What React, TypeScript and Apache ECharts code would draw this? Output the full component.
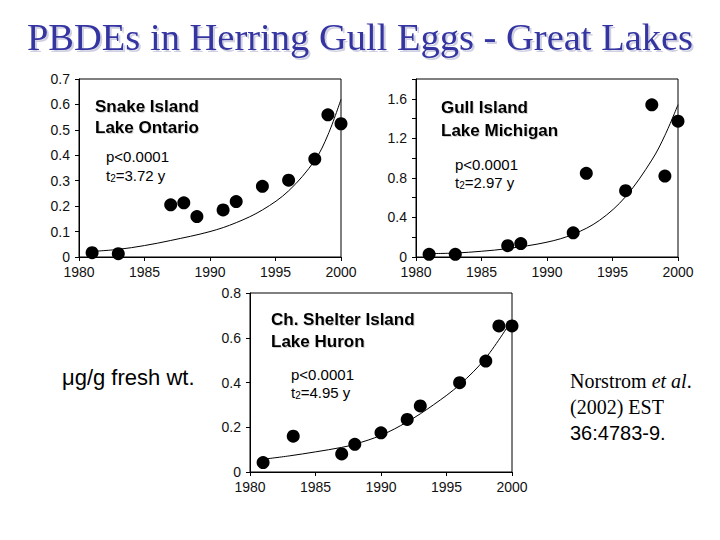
import React, { useEffect, useRef } from "react";
import * as echarts from "echarts";

// Snake Island, Lake Ontario
const snakeYears = [1981, 1983, 1987, 1988, 1989, 1991, 1992, 1994, 1996, 1998, 1999, 2000];
const snakeValues = [0.017, 0.013, 0.205, 0.213, 0.159, 0.185, 0.218, 0.278, 0.302, 0.385, 0.559, 0.524];
const snakeFitYears = [1981, 1983, 1985, 1987, 1990, 1992, 1994, 1996, 1998, 1999, 2000];
const snakeFitValues = [0.022, 0.03, 0.045, 0.065, 0.1, 0.135, 0.185, 0.26, 0.38, 0.48, 0.62];

// Gull Island, Lake Michigan
const gullYears = [1981, 1983, 1987, 1988, 1992, 1993, 1996, 1998, 1999, 2000];
const gullValues = [0.027, 0.027, 0.115, 0.136, 0.244, 0.846, 0.67, 1.539, 0.818, 1.373];
const gullFitYears = [1981, 1983, 1985, 1987, 1990, 1992, 1994, 1996, 1998, 1999, 2000];
const gullFitValues = [0.034, 0.04, 0.058, 0.085, 0.15, 0.23, 0.37, 0.61, 0.98, 1.23, 1.54];

// Channel Shelter Island, Lake Huron
const shelterYears = [1981, 1983.3, 1987, 1988, 1990, 1992, 1993, 1996, 1998, 1999, 2000];
const shelterValues = [0.042, 0.16, 0.081, 0.124, 0.175, 0.235, 0.295, 0.399, 0.496, 0.653, 0.653];
const shelterFitYears = [1981, 1983, 1985, 1987, 1988, 1990, 1992, 1994, 1996, 1998, 2000];
const shelterFitValues = [0.057, 0.072, 0.09, 0.11, 0.124, 0.164, 0.224, 0.3, 0.39, 0.51, 0.68];

const titleText = "PBDEs in Herring Gull Eggs - Great Lakes";
const unitText = "\u03bcg/g fresh wt.";

const SANS = '"Liberation Sans", Arial, sans-serif';
const SERIF = '"Liberation Serif", "Times New Roman", serif';

const zip = (xs: number[], ys: number[]) => xs.map((x, i) => [x, ys[i]]);

function xAxisFor(gridIndex: number) {
  return {
    type: "value",
    gridIndex,
    min: 1980,
    max: 2000,
    interval: 5,
    axisLine: { show: true, onZero: false, lineStyle: { color: "#000", width: 1 } },
    axisTick: { show: true, inside: false, length: 4, lineStyle: { color: "#000" } },
    axisLabel: {
      fontSize: 14,
      lineHeight: 14,
      fontFamily: SANS,
      color: "#111",
      margin: 8,
      formatter: (v: number) => String(Math.round(v)),
    },
    splitLine: { show: false },
  };
}

function yAxisFor(gridIndex: number, max: number, interval: number, labelStep: number) {
  return {
    type: "value",
    gridIndex,
    min: 0,
    max,
    interval,
    axisLine: { show: true, onZero: false, lineStyle: { color: "#000", width: 1 } },
    axisTick: { show: true, inside: false, length: 4, lineStyle: { color: "#000" } },
    axisLabel: {
      fontSize: 14,
      lineHeight: 13,
      fontFamily: SANS,
      color: "#111",
      margin: 9,
      formatter: (v: number) => {
        const n = Math.round(v * 10);
        const step = Math.round(labelStep * 10);
        if (n % step !== 0) return "";
        return String(Number(v.toFixed(1)));
      },
    },
    splitLine: { show: false },
  };
}

function scatter(idx: number, xs: number[], ys: number[]) {
  return {
    type: "scatter",
    xAxisIndex: idx,
    yAxisIndex: idx,
    data: zip(xs, ys),
    symbol: "circle",
    symbolSize: 13,
    itemStyle: { color: "#000", opacity: 1 },
    clip: false,
    z: 3,
  };
}

function fit(idx: number, xs: number[], ys: number[]) {
  return {
    type: "line",
    xAxisIndex: idx,
    yAxisIndex: idx,
    data: zip(xs, ys),
    showSymbol: false,
    smooth: 0.35,
    lineStyle: { color: "#000", width: 1 },
    z: 2,
  };
}

function label(x: number, y: number, text: string, opts: any = {}) {
  return {
    type: "text",
    x,
    y,
    style: {
      text,
      fill: "#000",
      fontSize: 15,
      fontFamily: SANS,
      align: "left",
      verticalAlign: "middle",
      ...opts,
    },
  };
}

function halfLife(x: number, y: number, value: string) {
  return {
    type: "text",
    x,
    y,
    style: {
      text: `{a|t}{s|2}{a|=${value} y}`,
      fill: "#000",
      align: "left",
      verticalAlign: "middle",
      rich: {
        a: { fontSize: 15, fontFamily: SANS, fill: "#000", lineHeight: 18, verticalAlign: "bottom" },
        s: { fontSize: 10, fontFamily: SANS, fill: "#000", lineHeight: 8, verticalAlign: "bottom" },
      },
    },
  };
}

const siteStyle = {
  fontSize: 17,
  fontWeight: "bold",
  textShadowColor: "rgba(0,0,0,0.18)",
  textShadowOffsetX: 1,
  textShadowOffsetY: 1,
  textShadowBlur: 1,
};

export default function App() {
  const ref = useRef<HTMLDivElement>(null);

  useEffect(() => {
    if (!ref.current) return;
    const chart = echarts.init(ref.current, undefined, { renderer: "svg" });
    const gridBase = { show: true, borderColor: "#000", borderWidth: 1, backgroundColor: "transparent", containLabel: false };
    chart.setOption({
      animation: false,
      backgroundColor: "#fff",
      grid: [
        { ...gridBase, left: 79, top: 79, width: 262, height: 178 },
        { ...gridBase, left: 416, top: 79, width: 262, height: 178 },
        { ...gridBase, left: 250, top: 293, width: 262, height: 179 },
      ],
      xAxis: [xAxisFor(0), xAxisFor(1), xAxisFor(2)],
      yAxis: [yAxisFor(0, 0.7, 0.1, 0.1), yAxisFor(1, 1.8, 0.2, 0.4), yAxisFor(2, 0.8, 0.2, 0.2)],
      series: [
        fit(0, snakeFitYears, snakeFitValues),
        scatter(0, snakeYears, snakeValues),
        fit(1, gullFitYears, gullFitValues),
        scatter(1, gullYears, gullValues),
        fit(2, shelterFitYears, shelterFitValues),
        scatter(2, shelterYears, shelterValues),
      ],
      graphic: [
        {
          type: "text",
          x: 360,
          y: 37,
          style: {
            text: titleText,
            fill: "#3434a2",
            fontSize: 38.5,
            fontFamily: SERIF,
            align: "center",
            verticalAlign: "middle",
            textShadowColor: "rgba(120,120,170,0.35)",
            textShadowOffsetX: 2,
            textShadowOffsetY: 2,
            textShadowBlur: 1,
          },
        },
        label(95, 106, "Snake Island", siteStyle),
        label(95, 127, "Lake Ontario", siteStyle),
        label(106, 156, "p<0.0001"),
        halfLife(106, 174, "3.72"),
        label(441, 107, "Gull Island", siteStyle),
        label(441, 130, "Lake Michigan", siteStyle),
        label(455, 164, "p<0.0001"),
        halfLife(455, 181, "2.97"),
        label(271, 319, "Ch. Shelter Island", siteStyle),
        label(271, 341, "Lake Huron", siteStyle),
        label(291, 374, "p<0.0001"),
        halfLife(291, 391, "4.95"),
        label(62, 377, unitText, { fontSize: 22 }),
        {
          type: "text",
          x: 570,
          y: 381,
          style: {
            text: "{r|Norstrom }{i|et al}{r|.}",
            align: "left",
            verticalAlign: "middle",
            rich: {
              r: { fontSize: 20, fontFamily: SERIF, fill: "#000" },
              i: { fontSize: 20, fontFamily: SERIF, fontStyle: "italic", fill: "#000" },
            },
          },
        },
        label(570, 407, "(2002) EST", { fontSize: 20, fontFamily: SERIF }),
        label(570, 433, "36:4783-9.", { fontSize: 20 }),
      ],
    });
    return () => chart.dispose();
  }, []);

  return (
    <div
      ref={ref}
      style={{ position: "fixed", left: 0, top: 0, width: 720, height: 540, background: "#fff" }}
    />
  );
}
